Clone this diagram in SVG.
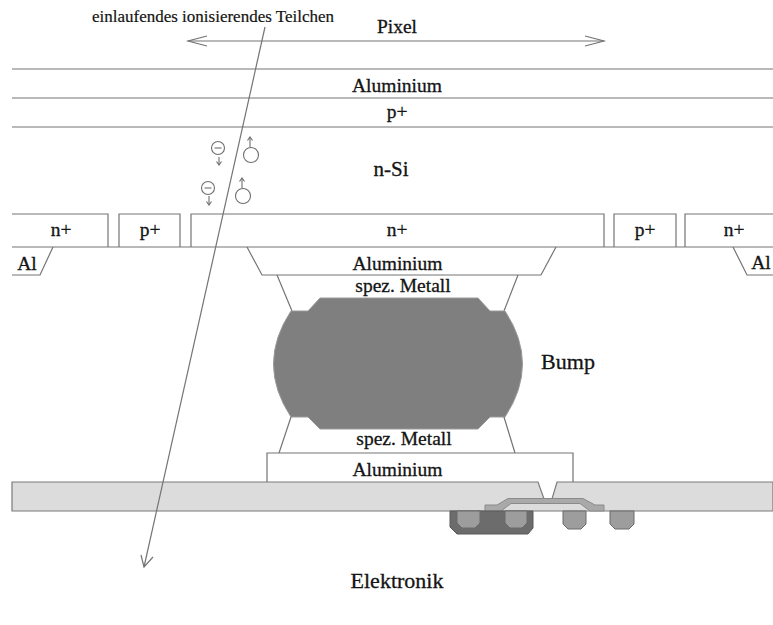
<svg xmlns="http://www.w3.org/2000/svg" width="773" height="625" viewBox="0 0 773 625">
  <style>
    .ln { fill: none; stroke: #747474; stroke-width: 1.2; }
    .box { fill: #ffffff; stroke: #747474; stroke-width: 1.2; }
    .lbl { font-family: "Liberation Serif", "Times New Roman", serif; font-size: 19.5px; fill: #141414; stroke: #141414; stroke-width: 0.3; text-anchor: middle; }
    .small { font-size: 17px; stroke-width: 0.2; }
    .big { font-size: 22px; }
    .band { fill: #dcdcdc; stroke: #7a7a7a; stroke-width: 1.2; }
    .trace { fill: #a9a9a9; stroke: #8a8a8a; stroke-width: 1; }
    .well { fill: #6c6c6c; stroke: #5a5a5a; stroke-width: 1; }
    .plug { fill: #9d9d9d; stroke: #6a6a6a; stroke-width: 1; }
    .carrier { fill: none; stroke: #6e6e6e; stroke-width: 1.1; }
  </style>

  <rect width="773" height="625" fill="#ffffff"/>

  <!-- sensor layer stack -->
  <g id="layer-aluminium-top">
    <line class="ln" x1="12" y1="69" x2="773" y2="69"/>
    <line class="ln" x1="12" y1="98" x2="773" y2="98"/>
    <text class="lbl" x="397" y="92">Aluminium</text>
  </g>
  <g id="layer-p-plus">
    <line class="ln" x1="12" y1="127" x2="773" y2="127"/>
    <text class="lbl" x="397" y="118">p+</text>
  </g>
  <g id="layer-n-si">
    <text class="lbl" x="391" y="176" style="font-size:21px">n-Si</text>
  </g>

  <!-- implants at the sensor back side -->
  <g id="implant-row">
    <line class="ln" x1="12" y1="247" x2="773" y2="247"/>
  </g>
  <g id="n-plus-left">
    <path class="ln" d="M12,214 H108 V247"/>
    <text class="lbl" x="61" y="236">n+</text>
  </g>
  <g id="p-plus-left">
    <path class="ln" d="M119,247 V214 H180 V247"/>
    <text class="lbl" x="150" y="236">p+</text>
  </g>
  <g id="n-plus-center">
    <path class="ln" d="M191,247 V214 H604 V247"/>
    <text class="lbl" x="397" y="236">n+</text>
  </g>
  <g id="p-plus-right">
    <path class="ln" d="M614,247 V214 H676 V247"/>
    <text class="lbl" x="645" y="236">p+</text>
  </g>
  <g id="n-plus-right">
    <path class="ln" d="M685,247 V214 H773"/>
    <text class="lbl" x="734" y="236">n+</text>
  </g>
  <g id="al-left">
    <path class="ln" d="M53,247 L40,275 H12"/>
    <text class="lbl" x="27" y="270">Al</text>
  </g>
  <g id="al-right">
    <path class="ln" d="M733,247 L747,275 H773"/>
    <text class="lbl" x="761" y="269">Al</text>
  </g>

  <!-- bump bond between sensor and readout chip -->
  <g id="aluminium-pad-sensor">
    <path class="ln" d="M247,247 L262,275 H541 L556,247"/>
    <text class="lbl" x="397.5" y="270">Aluminium</text>
  </g>
  <g id="spez-metall-upper">
    <line class="ln" x1="277" y1="275" x2="292" y2="311"/>
    <line class="ln" x1="518" y1="275" x2="504" y2="311"/>
    <text class="lbl" x="403" y="292">spez. Metall</text>
  </g>
  <g id="bump">
    <path d="M320,298 H478 L490,311 H505 Q540,364 505,417 H490 L478,429 H320 L308,417 H291 Q256,364 291,311 H308 Z" fill="#7f7f7f" stroke="#9a9a9a" stroke-width="1"/>
    <text class="lbl big" x="568" y="369">Bump</text>
  </g>
  <g id="spez-metall-lower">
    <line class="ln" x1="291" y1="417" x2="279" y2="453"/>
    <line class="ln" x1="504" y1="417" x2="515" y2="453"/>
    <text class="lbl" x="404" y="445">spez. Metall</text>
  </g>
  <g id="aluminium-pad-chip">
    <path class="box" d="M267,482 V453 H573 V482"/>
    <text class="lbl" x="397.5" y="476">Aluminium</text>
  </g>

  <!-- readout chip surface -->
  <g id="chip-passivation">
    <path class="band" d="M12,482 H538 L544,499 H552 L557,482 H773 V511 H12 Z"/>
  </g>
  <g id="chip-metal-trace">
    <path class="trace" d="M485,511 V505 H497 L508,498.5 H583 L595,505 H604 V511 H590 L580,503.5 H511 L501,511 Z"/>
  </g>
  <g id="chip-transistors">
    <path class="well" d="M450,511 V527 L457,534 H528 L533,528 V511 Z"/>
    <path class="plug" d="M457,511 V523 L462,528 H475 L480,523 V511 Z"/>
    <path class="plug" d="M505,511 V523 L510,528 H522 L527,523 V511 Z"/>
    <path class="plug" d="M563,511 V524 L568,529 H581 L586,524 V511 Z"/>
    <path class="plug" d="M610,511 V524 L615,529 H629 L634,524 V511 Z"/>
  </g>
  <g id="elektronik">
    <text class="lbl big" x="397" y="588">Elektronik</text>
  </g>

  <!-- charge carriers -->
  <g id="carriers">
    <circle class="carrier" cx="218" cy="148" r="6.5"/>
    <line class="carrier" x1="214.5" y1="148" x2="221.5" y2="148"/>
    <circle class="carrier" cx="251" cy="155" r="7.5"/>
    <circle class="carrier" cx="208" cy="188" r="6.5"/>
    <line class="carrier" x1="204.5" y1="188" x2="211.5" y2="188"/>
    <circle class="carrier" cx="243" cy="196" r="7.5"/>
  </g>

  <!-- arrows -->
  <g id="connectors">
    <!-- pixel pitch -->
    <g id="pixel-width">
      <line class="ln" x1="188" y1="41" x2="604" y2="41"/>
      <path class="ln" d="M207,36 L188,41 L207,46"/>
      <path class="ln" d="M585,36 L604,41 L585,46"/>
      <text class="lbl" x="397" y="33">Pixel</text>
    </g>
    <!-- incoming particle track -->
    <g id="particle-track">
      <line class="ln" x1="265" y1="27" x2="144" y2="567"/>
      <path class="ln" d="M141,555 L144,567 L153,557"/>
      <text class="lbl small" x="213" y="22">einlaufendes ionisierendes Teilchen</text>
    </g>
    <!-- drift of electrons and holes -->
    <g id="carrier-drift">
      <line class="carrier" x1="219" y1="157" x2="219" y2="165"/>
      <path class="carrier" d="M216.5,161.5 L219,165 L221.5,161.5"/>
      <line class="carrier" x1="250" y1="147" x2="250" y2="137"/>
      <path class="carrier" d="M247.5,140.5 L250,137 L252.5,140.5"/>
      <line class="carrier" x1="209" y1="196" x2="209" y2="205"/>
      <path class="carrier" d="M206.5,201.5 L209,205 L211.5,201.5"/>
      <line class="carrier" x1="242" y1="188" x2="242" y2="178"/>
      <path class="carrier" d="M239.5,181.5 L242,178 L244.5,181.5"/>
    </g>
  </g>
</svg>
